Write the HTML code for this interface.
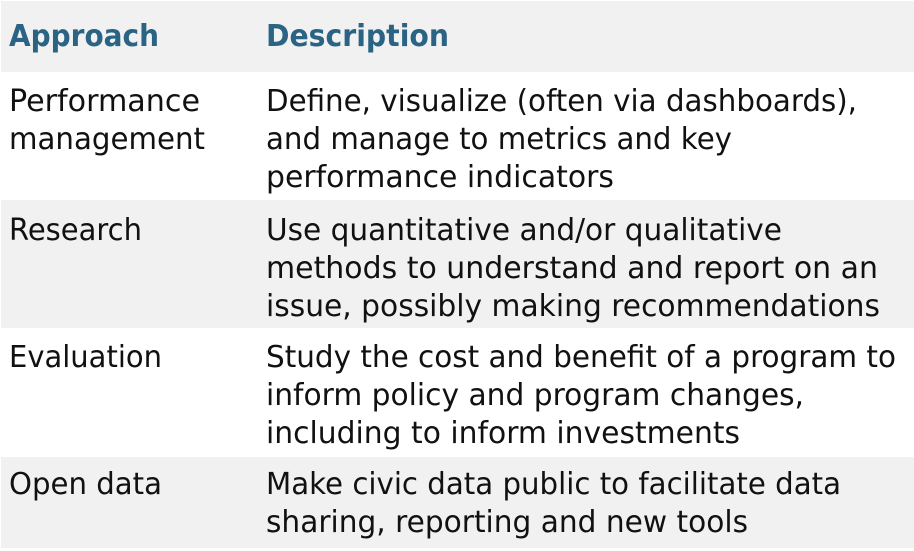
<!DOCTYPE html>
<html><head><meta charset="utf-8"><style>
html,body{margin:0;padding:0;background:#fff;width:914px;height:551px;overflow:hidden}
svg text{font-family:"DejaVu Sans","Liberation Sans",sans-serif;font-size:30px;fill:#111}
svg text.h{font-weight:bold;fill:#2a6384}
</style></head><body>
<svg width="914" height="551">
<rect x="1" y="1" width="913" height="71" fill="#f1f1f1"/>
<rect x="1" y="200" width="913" height="128" fill="#f1f1f1"/>
<rect x="1" y="457" width="913" height="91" fill="#f1f1f1"/>
<g>
<text class="h" x="9" y="46" textLength="150" lengthAdjust="spacingAndGlyphs">Approach</text>
<text class="h" x="266" y="46" textLength="183" lengthAdjust="spacingAndGlyphs">Description</text>
</g>
<g>
<text x="9" y="111" textLength="191" lengthAdjust="spacingAndGlyphs">Performance</text>
<text x="9" y="149" textLength="196" lengthAdjust="spacingAndGlyphs">management</text>
<text x="266" y="111" textLength="591" lengthAdjust="spacingAndGlyphs">Define, visualize (often via dashboards),</text>
<text x="266" y="149" textLength="466" lengthAdjust="spacingAndGlyphs">and manage to metrics and key</text>
<text x="266" y="187" textLength="348" lengthAdjust="spacingAndGlyphs">performance indicators</text>
</g>
<g>
<text x="9" y="240" textLength="133" lengthAdjust="spacingAndGlyphs">Research</text>
<text x="266" y="240" textLength="516" lengthAdjust="spacingAndGlyphs">Use quantitative and/or qualitative</text>
<text x="266" y="278" textLength="612" lengthAdjust="spacingAndGlyphs">methods to understand and report on an</text>
<text x="266" y="316" textLength="614" lengthAdjust="spacingAndGlyphs">issue, possibly making recommendations</text>
</g>
<g>
<text x="9" y="367" textLength="153" lengthAdjust="spacingAndGlyphs">Evaluation</text>
<text x="266" y="367" textLength="630" lengthAdjust="spacingAndGlyphs">Study the cost and benefit of a program to</text>
<text x="266" y="405" textLength="538" lengthAdjust="spacingAndGlyphs">inform policy and program changes,</text>
<text x="266" y="443" textLength="474" lengthAdjust="spacingAndGlyphs">including to inform investments</text>
</g>
<g>
<text x="9" y="494" textLength="153" lengthAdjust="spacingAndGlyphs">Open data</text>
<text x="266" y="494" textLength="575" lengthAdjust="spacingAndGlyphs">Make civic data public to facilitate data</text>
<text x="266" y="532" textLength="482" lengthAdjust="spacingAndGlyphs">sharing, reporting and new tools</text>
</g>
</svg>
</body></html>
